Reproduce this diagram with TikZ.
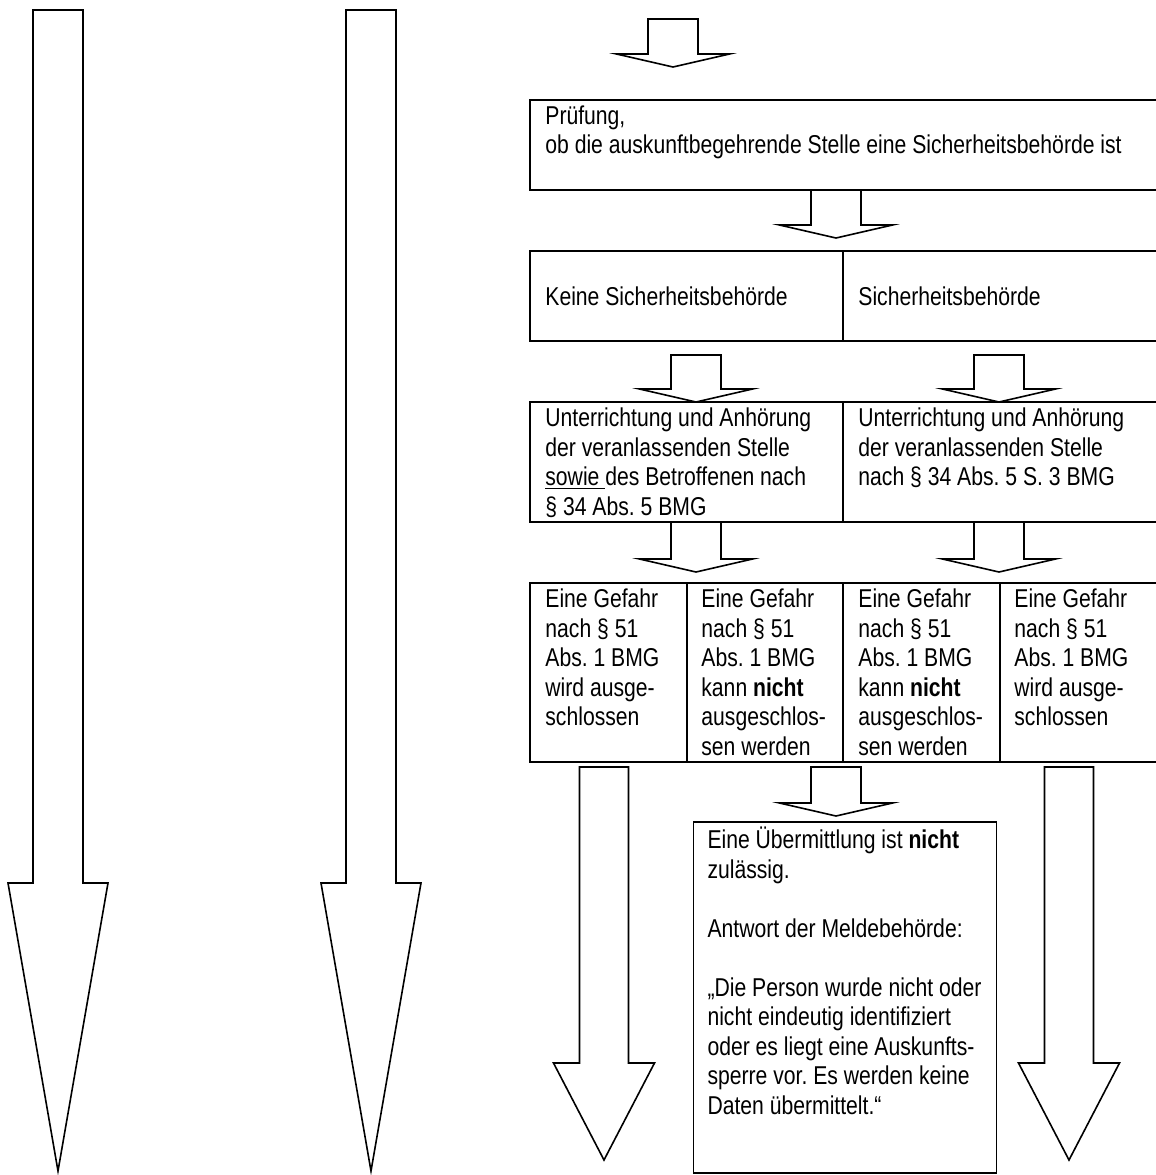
\documentclass[tikz,border=0pt]{standalone}
\usepackage{fontspec}
\setmainfont[FakeStretch=0.82]{Liberation Sans}
\usetikzlibrary{positioning,calc}
\frenchspacing

\newcommand{\blockarrow}[5]{%
  \draw[blk] ($(#1)+(-#3,0)$) -- ($(#2)+(-#3,-#5)$) -- ($(#2)+(-#4,-#5)$) -- (#2)
    -- ($(#2)+(#4,-#5)$) -- ($(#2)+(#3,-#5)$) -- ($(#1)+(#3,0)$) -- cycle;}

\begin{document}
\begin{tikzpicture}[
  x=0.5pt, y=-0.5pt,
  cell/.style={draw, line width=0.75pt, anchor=north west, inner sep=0pt, outer sep=0pt},
  txt/.style={anchor=north west, inner sep=0pt, align=left,
              font=\fontsize{12.9}{14.75}\selectfont, execute at begin node=\strut},
  blk/.style={draw, fill=white, line width=0.8pt}
]
\useasboundingbox (0,0) rectangle (1156,1175);
\clip (0,0) rectangle (1156,1175);

\node[cell, minimum width=315pt, minimum height=45pt] (pruef) at (530,100) {};
\node[cell, minimum width=156.5pt, minimum height=45pt] (keine) at (530,251) {};
\node[cell, minimum width=158.5pt, minimum height=45pt] (sich) at (843,251) {};
\node[cell, minimum width=156.5pt, minimum height=60pt] (unterl) at (530,402) {};
\node[cell, minimum width=158.5pt, minimum height=60pt] (unterr) at (843,402) {};
\node[cell, minimum width=78.5pt, minimum height=89.5pt] (gef1) at (530,583) {};
\node[cell, minimum width=78pt, minimum height=89.5pt] (gef2) at (687,583) {};
\node[cell, minimum width=78.5pt, minimum height=89.5pt] (gef3) at (843,583) {};
\node[cell, minimum width=80pt, minimum height=89.5pt] (gef4) at (1000,583) {};
\node[cell, minimum width=151.5pt, minimum height=175.5pt] (antwort) at (693.5,822) {};

\node[txt, below right=2.7pt and 7.5pt of pruef.north west] (pruefT)
  {Prüfung,\\ob die auskunftbegehrende Stelle eine Sicherheitsbehörde ist};
\node[txt, below right=16.7pt and 7.5pt of keine.north west] (keineT) {Keine Sicherheitsbehörde};
\node[txt, below right=16.7pt and 7.5pt of sich.north west] (sichT) {Sicherheitsbehörde};
\node[txt, below right=2.7pt and 7.5pt of unterl.north west] (unterlT)
  {Unterrichtung und Anhörung\\der veranlassenden Stelle\\\underline{sowie }des Betroffenen nach\\§ 34 Abs. 5 BMG};
\node[txt, below right=2.7pt and 7.5pt of unterr.north west] (unterrT)
  {Unterrichtung und Anhörung\\der veranlassenden Stelle\\nach § 34 Abs. 5 S. 3 BMG};
\node[txt, below right=2.7pt and 7.5pt of gef1.north west] (gef1T)
  {Eine Gefahr\\nach § 51\\Abs. 1 BMG\\wird ausge-\\schlossen};
\node[txt, below right=2.7pt and 7pt of gef2.north west] (gef2T)
  {Eine Gefahr\\nach § 51\\Abs. 1 BMG\\kann \textbf{nicht}\\ausgeschlos-\\sen werden};
\node[txt, below right=2.7pt and 7.5pt of gef3.north west] (gef3T)
  {Eine Gefahr\\nach § 51\\Abs. 1 BMG\\kann \textbf{nicht}\\ausgeschlos-\\sen werden};
\node[txt, below right=2.7pt and 7pt of gef4.north west] (gef4T)
  {Eine Gefahr\\nach § 51\\Abs. 1 BMG\\wird ausge-\\schlossen};
\node[txt, below right=2.4pt and 6.8pt of antwort.north west] (antwortT)
  {Eine Übermittlung ist \textbf{nicht}\\zulässig.\\[14.75pt]Antwort der Meldebehörde:\\[14.75pt]%
   „Die Person wurde nicht oder\\nicht eindeutig identifiziert\\oder es liegt eine Auskunfts-\\%
   sperre vor. Es werden keine\\Daten übermittelt.“};

\coordinate (s0) at (673,19);   \coordinate (t0) at (673,67);
\coordinate (s1) at (836,190);  \coordinate (t1) at (836,238);
\coordinate (s2) at (696,355);  \coordinate (t2) at (696,402);
\coordinate (s3) at (999,355);  \coordinate (t3) at (999,402);
\coordinate (s4) at (696,522);  \coordinate (t4) at (696,572);
\coordinate (s5) at (999,522);  \coordinate (t5) at (999,572);
\coordinate (s6) at (836,767);  \coordinate (t6) at (836,816);
\coordinate (l1s) at (58,10);   \coordinate (l1t) at (58,1171);
\coordinate (l2s) at (371,10);  \coordinate (l2t) at (371,1171);
\coordinate (l3s) at (604,767); \coordinate (l3t) at (604,1160);
\coordinate (l4s) at (1069,767); \coordinate (l4t) at (1069,1160);

\foreach \a/\b in {s0/t0, s1/t1, s2/t2, s3/t3, s4/t4, s5/t5, s6/t6}
  \blockarrow{\a}{\b}{25}{56.5}{13};
\foreach \a/\b in {l1s/l1t, l2s/l2t}
  \blockarrow{\a}{\b}{25}{50}{288};
\foreach \a/\b in {l3s/l3t, l4s/l4t}
  \blockarrow{\a}{\b}{24.5}{50.5}{97};
\end{tikzpicture}
\end{document}
